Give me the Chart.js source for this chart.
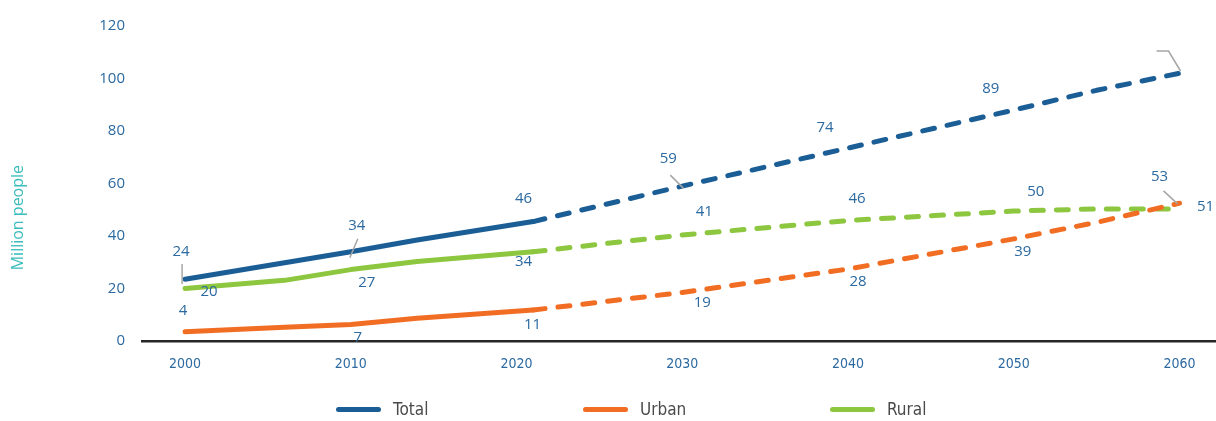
<!DOCTYPE html>
<html>
<head>
<meta charset="utf-8">
<script src="https://cdn.jsdelivr.net/npm/chart.js@4.4.1/dist/chart.umd.min.js"></script>
<style>
  html, body { margin: 0; padding: 0; background: #fff; }
  #wrap { position: relative; width: 1216px; height: 421px; }
  #legend { position: absolute; left: 336px; top: 399px; display: flex; }
  .item { display: flex; align-items: center; width: 247px; font: 17px "Liberation Sans Narrow", "DejaVu Sans Condensed", sans-serif; color: #4a4a4a; }
  .sw { width: 45px; height: 5px; border-radius: 3px; margin-right: 12px; }
</style>
</head>
<body>
<div id="wrap">
  <canvas id="myChart" width="1216" height="421"></canvas>
  <div id="legend"></div>
</div>
<script>
// years where the lines bend
const years = [2000, 2006, 2010, 2014, 2021, 2030, 2040, 2050, 2055, 2060];
const projectionFrom = 2021;

const total = [23.5, 29.8, 34, 38.5, 45.5, 59, 73.5, 88, 95.5, 102];
const urban = [3.5, 5.2, 6.3, 8.7, 11.8, 18.5, 27.4, 38.9, 45.2, 52.5];
const rural = [20, 23.1, 27.2, 30.3, 34, 40.4, 45.9, 49.5, 50.3, 50.3];

// labelled values per decade
const labelYears = [2000, 2010, 2020, 2030, 2040, 2050, 2060];
const totalLabels = [24, 34, 46, 59, 74, 89, null];
const urbanLabels = [4, 7, 11, 19, 28, 39, 53];
const ruralLabels = [20, 27, 34, 41, 46, 50, 51];
const totalLeaderValue = 104;

const yTicks = [0, 20, 40, 60, 80, 100, 120];
const xTicks = [2000, 2010, 2020, 2030, 2040, 2050, 2060];

const names = ['Total', 'Urban', 'Rural'];
const colors = ['#1b5e96', '#f26d24', '#8dc63f'];
const yTitle = 'Million people';

// label offsets in px from the labelled point, and leader lines (style only)
const labelOffsets = [
    [[-4, -26], [6, -26], [7, -22], [-14, -27], [-23, -19], [-23, -19], null],
    [[-2, -20], [7, 15], [16, 13], [20, 12], [10, 14], [9, 13], [-20, -25]],
    [[24, 3], [16, 13], [7, 10], [22, -22], [9, -22], [22, -18], [26, 0]]
];
const leaders = [
    [[[-3, -14], [-3, 6]], [[7, -13], [-1, 6]], null, [[-12, -11], [1, 2]], null, null, null],
    [null, null, null, null, null, null, [[-16, -11], [-2, 2]]],
    [null, null, null, null, null, null, null]
];
const lastLeader = [[-23, -17], [-11, -17], [1, 3]];

const seriesVals = [total, urban, rural];
const seriesLabels = [totalLabels, urbanLabels, ruralLabels];

const legendEl = document.getElementById('legend');
names.forEach((n, i) => {
    const it = document.createElement('div');
    it.className = 'item';
    it.innerHTML = '<span class="sw" style="background:' + colors[i] + '"></span>' + n;
    legendEl.appendChild(it);
});

const labelPlugin = {
    id: 'valueLabels',
    afterDatasetsDraw(chart) {
        const ctx = chart.ctx;
        const xs = chart.scales.x, ys = chart.scales.y;
        ctx.save();
        ctx.font = '15px "Open Sans", sans-serif';
        ctx.fillStyle = '#2b69a0';
        ctx.textAlign = 'center';
        ctx.textBaseline = 'middle';
        ctx.strokeStyle = '#a6a6a6';
        ctx.lineWidth = 1.5;
        seriesLabels.forEach((labs, s) => {
            labs.forEach((v, k) => {
                const val = v == null ? totalLeaderValue : v;
                const px = xs.getPixelForValue(labelYears[k]);
                const py = ys.getPixelForValue(val);
                const ld = leaders[s][k];
                if (ld) {
                    ctx.beginPath();
                    ctx.moveTo(px + ld[0][0], py + ld[0][1]);
                    ctx.lineTo(px + ld[1][0], py + ld[1][1]);
                    ctx.stroke();
                }
                if (v == null) {
                    ctx.beginPath();
                    lastLeader.forEach((p, j) => j ? ctx.lineTo(px + p[0], py + p[1]) : ctx.moveTo(px + p[0], py + p[1]));
                    ctx.stroke();
                    return;
                }
                const off = labelOffsets[s][k];
                ctx.fillText(String(v), px + off[0], py + off[1]);
            });
        });

        // axis title, sits a bit below the middle like the original
        ctx.translate(18, ys.getPixelForValue(47));
        ctx.rotate(-Math.PI / 2);
        ctx.font = '16px "Open Sans", sans-serif';
        ctx.fillStyle = '#3cbcbc';
        ctx.fillText(yTitle, 0, 0);
        ctx.restore();
    }
};

const ctx = document.getElementById('myChart');
new Chart(ctx, {
    type: 'line',
    data: {
        datasets: names.map((n, i) => ({
            label: n,
            data: years.map((yr, k) => ({ x: yr, y: seriesVals[i][k] })),
            borderColor: colors[i],
            backgroundColor: colors[i],
            borderWidth: 5,
            borderCapStyle: 'round',
            borderJoinStyle: 'round',
            pointRadius: 0,
            tension: 0,
            segment: {
                borderDash: c => c.p0.parsed.x >= projectionFrom ? [12, 13] : undefined
            }
        }))
    },
    options: {
        responsive: false,
        animation: false,
        layout: { padding: { top: 16, right: 0, bottom: 40, left: 0 } },
        plugins: { legend: { display: false }, tooltip: { enabled: false } },
        scales: {
            x: {
                type: 'linear',
                min: 1997.4,
                max: 2062.2,
                afterBuildTicks: s => { s.ticks = xTicks.map(v => ({ value: v })); },
                afterFit: s => { s.height = 40; },
                grid: { display: false, drawTicks: false },
                border: { display: true, color: '#262626', width: 2.5 },
                ticks: {
                    padding: 15,
                    color: '#2b69a0',
                    font: { family: '"Liberation Sans Narrow", "DejaVu Sans Condensed", sans-serif', size: 14 },
                    callback: v => String(v),
                    maxRotation: 0
                }
            },
            y: {
                min: 0,
                max: 120,
                afterBuildTicks: s => { s.ticks = yTicks.map(v => ({ value: v })); },
                afterFit: s => { s.width = 142; },
                grid: { display: false, drawTicks: false },
                border: { display: false },
                ticks: {
                    padding: 17,
                    color: '#2b69a0',
                    font: { family: '"Open Sans", sans-serif', size: 15 }
                }
            }
        }
    },
    plugins: [labelPlugin]
});
</script>
</body>
</html>
